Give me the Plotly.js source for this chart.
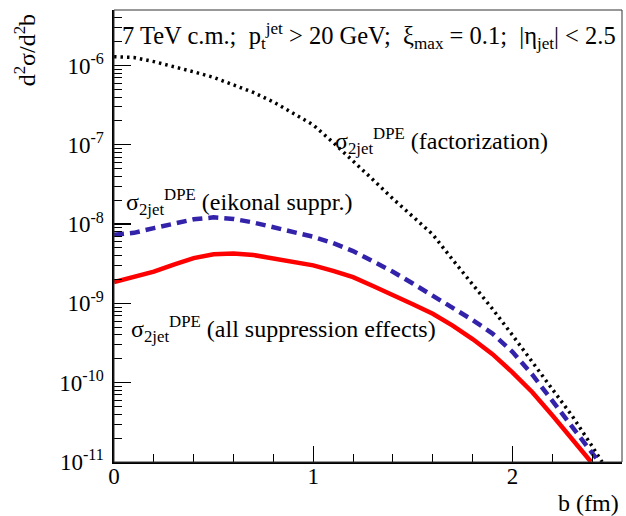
<!DOCTYPE html>
<html>
<head>
<meta charset="utf-8">
<script src="https://cdn.plot.ly/plotly-3.0.1.min.js"></script>
<style>
  html, body { margin: 0; padding: 0; background: #fff; }
  #chart { width: 626px; height: 516px; }
</style>
</head>
<body>
<div id="chart"></div>
<script>
// Impact-parameter distribution of the double-pomeron-exchange dijet cross section
// b in fm, d2sigma/d2b on a log scale

const bFact = [0, 0.1, 0.2, 0.3, 0.4, 0.5, 0.6, 0.7, 0.8, 0.9, 1.0, 1.1, 1.2, 1.3,
               1.4, 1.5, 1.6, 1.7, 1.8, 1.9, 2.0, 2.1, 2.2, 2.3, 2.4, 2.45];
const sigmaFact = [1.29e-6, 1.26e-6, 1.12e-6, 9.77e-7, 8.32e-7, 7.08e-7, 5.75e-7, 4.57e-7,
                   3.47e-7, 2.51e-7, 1.78e-7, 1.07e-7, 6.31e-8, 3.63e-8, 2.09e-8, 1.26e-8,
                   7.41e-9, 3.55e-9, 1.74e-9, 8.51e-10, 3.98e-10, 1.82e-10, 8.32e-11,
                   3.80e-11, 1.58e-11, 1.0e-11];

const bEik = [0, 0.1, 0.2, 0.3, 0.4, 0.5, 0.6, 0.7, 0.8, 0.9, 1.0, 1.1, 1.2, 1.3,
              1.4, 1.5, 1.6, 1.7, 1.8, 1.9, 2.0, 2.1, 2.2, 2.3, 2.435];
const sigmaEik = [7.35e-9, 7.76e-9, 8.91e-9, 1.023e-8, 1.148e-8, 1.216e-8, 1.161e-8, 1.047e-8,
                  9.12e-9, 7.94e-9, 6.92e-9, 5.75e-9, 4.57e-9, 3.39e-9, 2.51e-9, 1.78e-9,
                  1.26e-9, 8.71e-10, 6.17e-10, 4.17e-10, 2.45e-10, 1.26e-10, 5.89e-11,
                  2.82e-11, 1.0e-11];

const bAll = [0, 0.1, 0.2, 0.3, 0.4, 0.5, 0.6, 0.7, 0.8, 0.9, 1.0, 1.1, 1.2, 1.3,
              1.4, 1.5, 1.6, 1.7, 1.8, 1.9, 2.0, 2.1, 2.2, 2.3, 2.395];
const sigmaAll = [1.86e-9, 2.14e-9, 2.51e-9, 3.09e-9, 3.72e-9, 4.17e-9, 4.27e-9, 4.07e-9,
                  3.72e-9, 3.39e-9, 3.02e-9, 2.57e-9, 2.14e-9, 1.66e-9, 1.29e-9, 9.77e-10,
                  7.41e-10, 5.25e-10, 3.55e-10, 2.29e-10, 1.35e-10, 7.59e-11, 3.89e-11,
                  1.95e-11, 1.0e-11];

const yTickVals = [1e-11, 1e-10, 1e-9, 1e-8, 1e-7, 1e-6];
const yTickText = ['10<sup>-11</sup>', '10<sup>-10</sup>', '10<sup>-9</sup>',
                   '10<sup>-8</sup>', '10<sup>-7</sup>', '10<sup>-6</sup>'];
const xTickVals = [0, 1, 2];
const xTickText = ['0', '1', '2'];

const serif = 'Liberation Serif';
const NB = '\u00A0';

const traces = [
  {
    x: bFact, y: sigmaFact, type: 'scatter', mode: 'lines',
    line: { color: '#000000', width: 3.5, dash: '2.5px,4px' },
    hoverinfo: 'skip'
  },
  {
    x: bEik, y: sigmaEik, type: 'scatter', mode: 'lines',
    line: { color: '#3322aa', width: 4.5, dash: '10px,6px' },
    hoverinfo: 'skip'
  },
  {
    x: bAll, y: sigmaAll, type: 'scatter', mode: 'lines',
    line: { color: '#ff0000', width: 4.5 },
    hoverinfo: 'skip'
  }
];

const sigmaLabel = 'σ<sub>2jet</sub><sup>DPE</sup>' + NB;

const layout = {
  width: 626, height: 516,
  margin: { l: 114, r: 4, t: 10, b: 54 },
  paper_bgcolor: '#ffffff', plot_bgcolor: '#ffffff',
  showlegend: false,
  font: { family: serif, color: '#000000', size: 23 },
  xaxis: {
    range: [0, 2.55],
    tickvals: xTickVals, ticktext: xTickText,
    ticks: 'inside', ticklen: 16, tickwidth: 1.3, tickcolor: '#000',
    minor: { dtick: 0.2, ticks: 'inside', ticklen: 8, tickwidth: 1, tickcolor: '#000', showgrid: false },
    showline: true, linecolor: '#000', linewidth: 1.6,
    showgrid: false, zeroline: false,
    tickfont: { family: serif, size: 23, color: '#000' },
    ticklabelstandoff: -7
  },
  yaxis: {
    type: 'log',
    range: [-11, -5.3],
    tickvals: yTickVals, ticktext: yTickText,
    ticks: 'inside', ticklen: 17, tickwidth: 1.3, tickcolor: '#000',
    minor: { dtick: 'D1', ticks: 'inside', ticklen: 8, tickwidth: 1, tickcolor: '#000', showgrid: false },
    showline: true, linecolor: '#000', linewidth: 1.6,
    showgrid: false, zeroline: false,
    tickfont: { family: serif, size: 23, color: '#000' },
    ticklabelstandoff: 4
  },
  shapes: [
    {
      type: 'rect', xref: 'paper', yref: 'paper', x0: 0, x1: 1, y0: 0, y1: 1,
      line: { color: '#333333', width: 1 }, fillcolor: 'rgba(0,0,0,0)', layer: 'above'
    }
  ],
  annotations: [
    {
      xref: 'paper', yref: 'paper', x: 0.012, y: 0.985,
      xanchor: 'left', yanchor: 'top', showarrow: false,
      font: { family: serif, size: 24.5, color: '#000' },
      text: '7 TeV c.m.;' + NB + NB + 'p<sub>t</sub><sup>jet</sup> &gt; 20 GeV;' + NB + NB +
            'ξ<sub>max</sub> = 0.1;' + NB + NB + '|η<sub>jet</sub>| &lt; 2.5'
    },
    {
      xref: 'x', yref: 'y', x: 1.10, y: -6.95,
      xanchor: 'left', yanchor: 'middle', showarrow: false,
      font: { family: serif, size: 24, color: '#000' },
      text: sigmaLabel + '(factorization)'
    },
    {
      xref: 'x', yref: 'y', x: 0.05, y: -7.72,
      xanchor: 'left', yanchor: 'middle', showarrow: false,
      font: { family: serif, size: 24, color: '#000' },
      text: sigmaLabel + '(eikonal suppr.)'
    },
    {
      xref: 'x', yref: 'y', x: 0.075, y: -9.32,
      xanchor: 'left', yanchor: 'middle', showarrow: false,
      font: { family: serif, size: 24, color: '#000' },
      text: sigmaLabel + '(all suppression effects)'
    },
    {
      xref: 'paper', yref: 'paper', x: -0.175, y: 0.995,
      xanchor: 'center', yanchor: 'top', showarrow: false, textangle: -90,
      font: { family: serif, size: 24, color: '#000' },
      text: 'd<sup>2</sup>σ/d<sup>2</sup>b'
    },
    {
      xref: 'paper', yref: 'paper', x: 0.998, y: -0.09,
      xanchor: 'right', yanchor: 'middle', showarrow: false,
      font: { family: serif, size: 24, color: '#000' },
      text: 'b (fm)'
    }
  ]
};

Plotly.newPlot('chart', traces, layout, { staticPlot: true, displayModeBar: false });
</script>
</body>
</html>
